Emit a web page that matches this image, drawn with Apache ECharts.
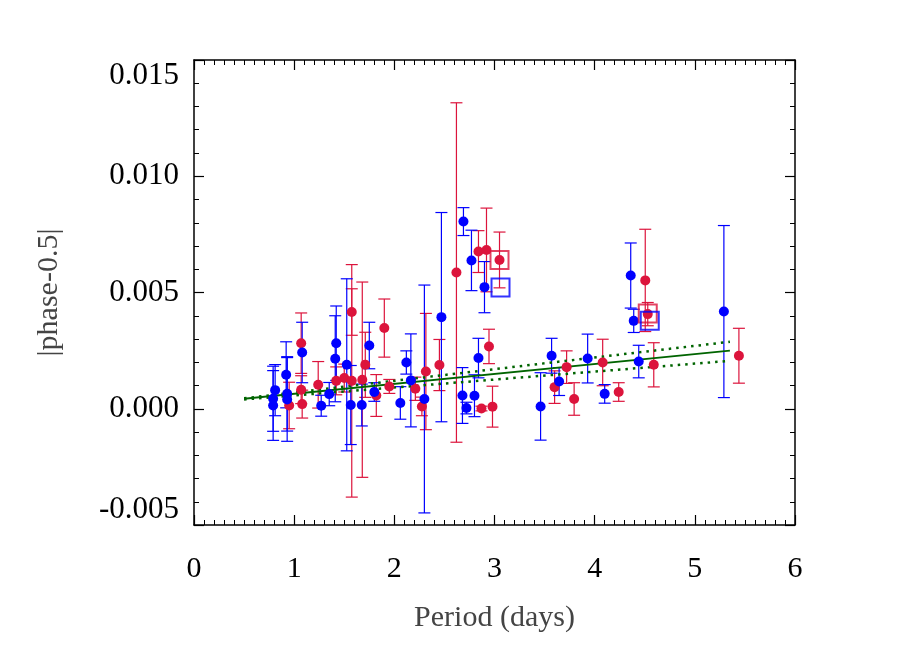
<!DOCTYPE html>
<html>
<head>
<meta charset="utf-8">
<script src="https://cdn.jsdelivr.net/npm/echarts@6/dist/echarts.min.js"></script>
<style>
  html, body { margin: 0; padding: 0; background: #fff; }
  #main { width: 901px; height: 651px; }
</style>
</head>
<body>
<div id="main"></div>
<script>
// blue points: period, |phase-0.5|, error
var blueX = [0.79, 0.79, 0.81, 0.92, 0.93, 0.93, 1.08, 1.27, 1.35, 1.42, 1.41, 1.525, 1.565, 1.675, 1.75, 1.80,
  2.06, 2.12, 2.165, 2.30, 2.47, 2.69, 2.68, 2.72, 2.77, 2.80, 2.84, 2.90, 3.46, 3.57, 3.645, 3.93,
  4.10, 4.36, 4.39, 4.44, 5.29];
var blueY = [0.00014, 0.00043, 0.0008, 0.00146, 0.00064, 0.0004, 0.00242, 0.00013, 0.00063, 0.00282, 0.00215, 0.00189, 0.00016, 0.00016, 0.00272, 0.00072,
  0.00025, 0.00199, 0.00122, 0.00042, 0.00394, 0.00805, 0.00057, 0.00003, 0.00638, 0.00056, 0.00218, 0.00523, 0.0001, 0.00228, 0.00117, 0.00216,
  0.00064, 0.00573, 0.00378, 0.00203, 0.00418];
var blueErr = [0.0015, 0.0014, 0.0011, 0.00142, 0.0016, 0.0018, 0.0013, 0.00045, 0.0005, 0.0016, 0.00185, 0.0037, 0.0017, 0.0009, 0.001, 0.0004,
  0.0007, 0.0005, 0.002, 0.0049, 0.0045, 0.0006, 0.0012, 0.00025, 0.0013, 0.0009, 0.00085, 0.0011, 0.00145, 0.00075, 0.0006, 0.00105,
  0.0004, 0.0014, 0.0005, 0.0007, 0.0037];

// red points
var redX = [0.95, 1.07, 1.07, 1.08, 1.24, 1.42, 1.50, 1.575, 1.575, 1.68, 1.71, 1.82, 1.90, 1.95, 2.21, 2.275, 2.315,
  2.45, 2.62, 2.84, 2.92, 3.05, 2.945, 2.87, 2.98, 3.60, 3.72, 3.795, 4.08, 4.24, 4.505, 4.53, 4.59, 5.44];
var redY = [0.00014, 0.00282, 0.00082, 0.0002, 0.00103, 0.0012, 0.00132, 0.00416, 0.0012, 0.00125, 0.00189, 0.00057, 0.00347, 0.00096, 0.00086, 0.0001, 0.0016,
  0.00188, 0.00586, 0.00676, 0.00683, 0.0064, 0.00268, 0.00001, 0.00009, 0.00093, 0.00179, 0.00042, 0.00199, 0.00072, 0.00552, 0.00407, 0.00189, 0.00228];
var redErr = [0.001, 0.0013, 0.0006, 0.0006, 0.001, 0.0006, 0.0006, 0.001, 0.005, 0.0042, 0.0014, 0.0009, 0.00125, 0.0003, 0.0005, 0.0004, 0.0025,
  0.0011, 0.0073, 0.0009, 0.0018, 0.0012, 0.00074, 0.0001, 0.00088, 0.0007, 0.0007, 0.0007, 0.001, 0.0004, 0.0022, 0.0005, 0.00095, 0.00118];

// open squares
var blueSqX = [3.06, 4.55];
var blueSqY = [0.00522, 0.00378];
var redSqX = [3.05, 4.53];
var redSqY = [0.0064, 0.0041];

// fit line and its limits (end points)
var fitX = [0.5, 5.35];
var fitY = [0.00043, 0.0025];
var fitHi = [0.00045, 0.00288];
var fitLo = [0.00040, 0.00206];

var BLUE = '#0000ff';
var RED = '#dc143c';
var GREEN = '#006400';
var FONT = '"Liberation Serif", "DejaVu Serif", serif';

function pts(xs, ys, es) {
  return xs.map(function (x, i) { return es ? [x, ys[i], es[i]] : [x, ys[i]]; });
}

function errBar(color) {
  return function (params, api) {
    var x = api.value(0), y = api.value(1), e = api.value(2);
    var hi = api.coord([x, y + e]);
    var lo = api.coord([x, y - e]);
    var w = 6;
    var st = { stroke: color, lineWidth: 1.2 };
    return {
      type: 'group',
      children: [
        { type: 'line', shape: { x1: hi[0], y1: hi[1], x2: lo[0], y2: lo[1] }, style: st },
        { type: 'line', shape: { x1: hi[0] - w, y1: hi[1], x2: hi[0] + w, y2: hi[1] }, style: st },
        { type: 'line', shape: { x1: lo[0] - w, y1: lo[1], x2: lo[0] + w, y2: lo[1] }, style: st }
      ]
    };
  };
}

var myChart = echarts.init(document.getElementById('main'));

var tickCommon = {
  axisLine: { show: true, onZero: false, lineStyle: { color: '#000', width: 1.5 } },
  axisTick: { show: true, inside: true, length: 10, lineStyle: { color: '#000', width: 1.2 } },
  splitLine: { show: false }
};
var xMinor = { minorTick: { show: true, splitNumber: 10, length: 5, lineStyle: { color: '#000' } } };
var yMinor = { minorTick: { show: true, splitNumber: 5, length: 5, lineStyle: { color: '#000' } } };

option = {
  animation: false,
  backgroundColor: '#fff',
  grid: { left: 194, right: 106, top: 60, bottom: 126 },
  xAxis: [
    Object.assign({
      type: 'value', min: 0, max: 6, interval: 1, position: 'bottom',
      name: 'Period (days)', nameLocation: 'middle', nameGap: 78,
      nameTextStyle: { fontFamily: FONT, fontSize: 30, color: '#444' },
      axisLabel: { fontFamily: FONT, fontSize: 30, color: '#000', margin: 29 }
    }, tickCommon, xMinor),
    Object.assign({
      type: 'value', min: 0, max: 6, interval: 1, position: 'top',
      axisLabel: { show: false }
    }, tickCommon, xMinor)
  ],
  yAxis: [
    Object.assign({
      type: 'value', min: -0.005, max: 0.015, interval: 0.005, position: 'left',
      name: '|phase-0.5|', nameLocation: 'middle', nameGap: 130,
      nameTextStyle: { fontFamily: FONT, fontSize: 30, color: '#444' },
      axisLabel: {
        fontFamily: FONT, fontSize: 31, color: '#000', margin: 15,
        verticalAlignMaxLabel: 'top', verticalAlignMinLabel: 'bottom',
        formatter: function (v) { return v.toFixed(3); }
      }
    }, tickCommon, yMinor),
    Object.assign({
      type: 'value', min: -0.005, max: 0.015, interval: 0.005, position: 'right',
      axisLabel: { show: false }
    }, tickCommon, yMinor)
  ],
  series: [
    {
      type: 'custom', renderItem: errBar(RED), data: pts(redX, redY, redErr),
      encode: { x: 0, y: 1 }, z: 2, silent: true
    },
    {
      type: 'custom', renderItem: errBar(BLUE), data: pts(blueX, blueY, blueErr),
      encode: { x: 0, y: 1 }, z: 2, silent: true
    },
    {
      type: 'line', data: pts(fitX, fitY), symbol: 'none', z: 3,
      lineStyle: { color: GREEN, width: 1.8 }
    },
    {
      type: 'line', data: pts(fitX, fitHi), symbol: 'none', z: 3,
      lineStyle: { color: GREEN, width: 2.5, type: [2.5, 5] }
    },
    {
      type: 'line', data: pts(fitX, fitLo), symbol: 'none', z: 3,
      lineStyle: { color: GREEN, width: 2.5, type: [2.5, 5] }
    },
    {
      type: 'scatter', data: pts(redX, redY), symbol: 'circle', symbolSize: 10, z: 4,
      itemStyle: { color: RED, opacity: 1 }
    },
    {
      type: 'scatter', data: pts(blueX, blueY), symbol: 'circle', symbolSize: 10, z: 5,
      itemStyle: { color: BLUE, opacity: 1 }
    },
    {
      type: 'scatter', data: pts(redSqX, redSqY), symbol: 'rect', symbolSize: 18, z: 6,
      itemStyle: { color: 'rgba(0,0,0,0)', borderColor: RED, borderWidth: 2 }
    },
    {
      type: 'scatter', data: pts(blueSqX, blueSqY), symbol: 'rect', symbolSize: 18, z: 6,
      itemStyle: { color: 'rgba(0,0,0,0)', borderColor: BLUE, borderWidth: 2 }
    }
  ]
};

myChart.setOption(option);
</script>
</body>
</html>
